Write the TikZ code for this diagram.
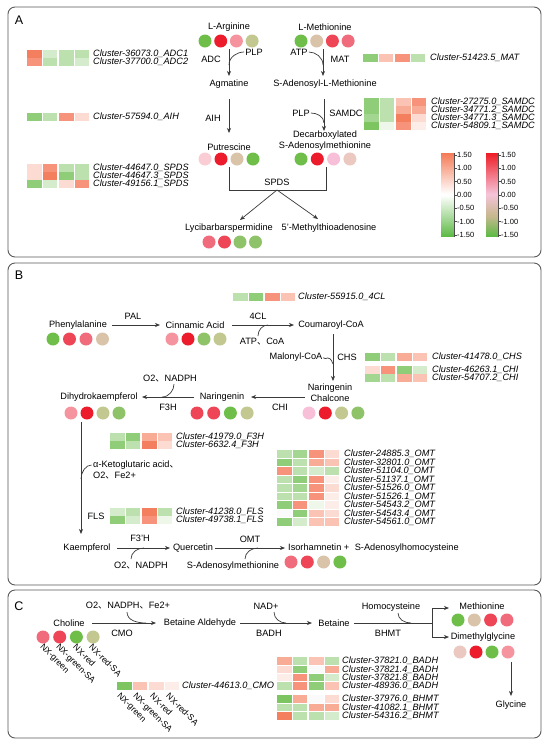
\documentclass[tikz,border=0pt]{standalone}
\usepackage{fontspec}
\setmainfont{Liberation Sans}
\newfontfamily\cjkf{Noto Sans CJK SC}
\usetikzlibrary{arrows.meta}
\newcommand\dn{{\cjkf 、}}
\definecolor{lin}{HTML}{3A3A3A}
\definecolor{pan}{HTML}{5A5A5A}
\definecolor{cG}{HTML}{6FBE4A}
\definecolor{cR}{HTML}{EC1C2C}
\definecolor{cRP}{HTML}{EE4656}
\definecolor{cPR}{HTML}{F06B7B}
\definecolor{cP}{HTML}{F5949F}
\definecolor{cLP}{HTML}{F9CDD3}
\definecolor{cPK}{HTML}{F7C0D8}
\definecolor{cT}{HTML}{D9C4AA}
\definecolor{cLT}{HTML}{EBC8C0}
\definecolor{cO}{HTML}{C2C890}
\definecolor{cOG}{HTML}{8EC36A}
\definecolor{h1}{HTML}{7CC560}
\definecolor{h2}{HTML}{8FCD78}
\definecolor{h3}{HTML}{A3D690}
\definecolor{h4}{HTML}{BCE1AE}
\definecolor{h5}{HTML}{D5ECCC}
\definecolor{h6}{HTML}{EEF7EA}
\definecolor{s1}{HTML}{F47F5E}
\definecolor{s2}{HTML}{F6937A}
\definecolor{s3}{HTML}{F8AC96}
\definecolor{s4}{HTML}{FAC3B3}
\definecolor{s5}{HTML}{FCDCD2}
\definecolor{s6}{HTML}{FDEDE8}
\definecolor{hw}{HTML}{FAFAFA}
\definecolor{barS}{HTML}{F47A55}
\definecolor{barG}{HTML}{5DBA45}
\definecolor{barR}{HTML}{EE1C25}
\definecolor{barP}{HTML}{F5C3D8}
\definecolor{barT}{HTML}{C7B890}
\newcommand\crow[7]{%
  \fill[#4] (#1,#2) circle[radius=6.5pt];
  \fill[#5] ({#1+#3},#2) circle[radius=6.5pt];
  \fill[#6] ({#1+2*#3},#2) circle[radius=6.5pt];
  \fill[#7] ({#1+3*#3},#2) circle[radius=6.5pt];}
\newcommand\hrow[6]{%
  \fill[#3] ({#1},{#2-3.6}) rectangle ++(14.5,7.2);
  \fill[#4] ({#1+15.5},{#2-3.6}) rectangle ++(14.5,7.2);
  \fill[#5] ({#1+32},{#2-3.6}) rectangle ++(14.5,7.2);
  \fill[#6] ({#1+47.5},{#2-3.6}) rectangle ++(14.5,7.2);}
\begin{document}
\begin{tikzpicture}[x=1pt,y=-1pt,
 txt/.style={font=\fontsize{9.2}{10.5}\selectfont, inner sep=0pt},
 cl/.style={font=\fontsize{9.2}{9}\selectfont\itshape, inner sep=0pt, anchor=west, text height=6.4pt, text depth=1pt},
 tk/.style={font=\fontsize{7.5}{8}\selectfont, inner sep=0pt, anchor=west},
 nx/.style={font=\fontsize{8.6}{9}\selectfont, inner sep=0pt, rotate=-45, anchor=north west},
 plab/.style={font=\fontsize{12.5}{13}\selectfont, inner sep=0pt},
 arr/.style={draw=lin, line width=0.7pt, -{Stealth[length=5pt,width=4pt,inset=1.5pt]}},
 ln/.style={draw=lin, line width=0.7pt},
 panel/.style={draw=pan, line width=0.9pt, rounded corners=7pt}]
\useasboundingbox (0,0) rectangle (550,748);
\fill[white] (0,0) rectangle (550,748);
% panels
\draw[panel] (8,7) rectangle (541,257);
\draw[panel] (8,263) rectangle (541,585);
\draw[panel] (8,590) rectangle (541,738);
\node[plab] (pA) at (19,20) {A};
\node[plab] (pB) at (19,275) {B};
\node[plab] (pC) at (19,606) {C};
% ================= Panel A
\node[txt] (arg) at (229,27) {L-Arginine};
\crow{205}{41}{15.7}{cG}{cR}{cP}{cO}
\coordinate (adcS) at (229,49); \coordinate (adcE) at (229,76);
\draw[arr] (adcS) -- (adcE);
\node[txt] (adc) at (211,59) {ADC};
\node[txt] (plp1) at (254,52) {PLP};
\coordinate (plp1j) at (229,65);
\draw[ln, shorten <=1pt] (plp1.west) to[out=180,in=90] (plp1j);
\node[txt] (agm) at (229,84) {Agmatine};
\coordinate (aihS) at (229,99); \coordinate (aihE) at (229,133);
\draw[arr] (aihS) -- (aihE);
\node[txt] (aih) at (213,118) {AIH};
\node[txt] (put) at (229,147) {Putrescine};
\crow{205}{159}{16}{cLP}{cR}{cT}{cG}
\node[txt] (met) at (325,27) {L-Methionine};
\crow{301}{41}{15.7}{cG}{cT}{cRP}{cPR}
\coordinate (matS) at (323,49); \coordinate (matE) at (323,76);
\draw[arr] (matS) -- (matE);
\node[txt] (mat) at (340,59) {MAT};
\node[txt] (atp1) at (299,52) {ATP};
\coordinate (atpj) at (323,65);
\draw[ln, shorten <=1pt] (atp1.east) to[out=0,in=90] (atpj);
\node[txt] (sam) at (325,84) {S-Adenosyl-L-Methionine};
\coordinate (samdcS) at (324,99); \coordinate (samdcE) at (324,131);
\draw[arr] (samdcS) -- (samdcE);
\node[txt] (plp2) at (301,113) {PLP};
\coordinate (plp2j) at (324,123);
\draw[ln, shorten <=1pt] (plp2.east) to[out=0,in=90] (plp2j);
\node[txt] (samdc) at (346,113) {SAMDC};
\node[txt, align=center, font=\fontsize{9.2}{11}\selectfont] (dcsam) at (325,140.5) {Decarboxylated\\S-Adenosylmethionine};
\crow{301}{159}{16.3}{cG}{cR}{cPK}{cLT}
\coordinate (sp1) at (229,167); \coordinate (sp2) at (229,190);
\coordinate (sp3) at (326,190); \coordinate (sp4) at (326,167);
\coordinate (spm) at (277,190);
\draw[ln] (sp1) -- (sp2) -- (sp3) -- (sp4);
\node[txt] (spds) at (277,182) {SPDS};
\node[txt] (lyc) at (229,228) {Lycibarbarspermidine};
\node[txt] (mta) at (329,228) {5'-Methylthioadenosine};
\coordinate (lycE) at (240,220); \coordinate (mtaE) at (318,219);
\draw[arr] (spm) -- (lycE);
\draw[arr] (spm) -- (mtaE);
\crow{209}{242}{15.5}{cPR}{cRP}{cOG}{cOG}
% heatmaps A
\hrow{27}{54}{s1}{h5}{h4}{h4}
\hrow{27}{62}{s2}{h4}{h4}{h5}
\node[cl] (kadc1) at (93,54) {Cluster-36073.0\_ADC1};
\node[cl] (kadc2) at (93,62) {Cluster-37700.0\_ADC2};
\hrow{27}{117}{h2}{h4}{s2}{s5}
\node[cl] (kaih) at (93,117) {Cluster-57594.0\_AIH};
\hrow{27}{168}{s5}{s2}{h4}{h4}
\hrow{27}{176}{s5}{s1}{h2}{h4}
\hrow{27}{184}{h2}{h5}{s5}{s2}
\node[cl] (kspds1) at (93,168) {Cluster-44647.0\_SPDS};
\node[cl] (kspds2) at (93,176) {Cluster-44647.3\_SPDS};
\node[cl] (kspds3) at (93,184) {Cluster-49156.1\_SPDS};
\hrow{363}{58}{h2}{s4}{s2}{h4}
\node[cl] (kmat) at (430,58) {Cluster-51423.5\_MAT};
\hrow{364}{102}{h2}{h4}{s4}{s2}
\hrow{364}{110}{h2}{h4}{s3}{s3}
\hrow{364}{118}{h3}{h4}{s1}{s5}
\hrow{364}{126}{h1}{h6}{s2}{s6}
\node[cl] (ksam1) at (431,102) {Cluster-27275.0\_SAMDC};
\node[cl] (ksam2) at (431,110) {Cluster-34771.2\_SAMDC};
\node[cl] (ksam3) at (431,118) {Cluster-34771.3\_SAMDC};
\node[cl] (ksam4) at (431,126) {Cluster-54809.1\_SAMDC};
% colour bars (sliced gradients)
\foreach \i in {0,...,41}{\pgfmathtruncatemacro\p{100-100*\i/41}
  \fill[barS!\p!white] (441,153+\i) rectangle ++(13,1.1);}
\foreach \i in {0,...,41}{\pgfmathtruncatemacro\p{100*\i/41}
  \fill[barG!\p!white] (441,195+\i) rectangle ++(13,1.1);}
\foreach \i in {0,...,41}{\pgfmathtruncatemacro\p{100-100*\i/41}
  \fill[barR!\p!barP] (486,153+\i) rectangle ++(12,1.1);}
\foreach \i in {0,...,20}{\pgfmathtruncatemacro\p{100*\i/20}
  \fill[barT!\p!barP] (486,195+\i) rectangle ++(12,1.1);}
\foreach \i in {0,...,20}{\pgfmathtruncatemacro\p{100*\i/20}
  \fill[barG!\p!barT] (486,216+\i) rectangle ++(12,1.1);}
\draw[black!70, line width=0.5pt] (454,153) -- (454,237);
\draw[black!70, line width=0.5pt] (498,153) -- (498,237);
\foreach \v [count=\i from 0] in {1.50,1.00,0.50,0.00,-0.50,-1.00,-1.50} {
  \draw[black!70, line width=0.5pt] (454,{155+13.33*\i}) -- ++(2.5,0);
  \draw[black!70, line width=0.5pt] (498,{155+13.33*\i}) -- ++(2.5,0);
  \node[tk] (ta\i) at (457,{155+13.33*\i}) {\v};
  \node[tk] (tb\i) at (501,{155+13.33*\i}) {\v};
}
% ================= Panel B
\hrow{233}{297}{h4}{h2}{s2}{s4}
\node[cl] (k4cl) at (298,297) {Cluster-55915.0\_4CL};
\node[txt] (phe) at (78,325) {Phenylalanine};
\crow{53}{339}{16.5}{cG}{cRP}{cPR}{cT}
\coordinate (palS) at (112,325); \coordinate (palE) at (160,325);
\draw[arr] (palS) -- (palE);
\node[txt] (pal) at (133,316) {PAL};
\node[txt] (cin) at (195,325) {Cinnamic Acid};
\crow{172}{339}{16}{cP}{cR}{cOG}{cO}
\coordinate (clS) at (232,325); \coordinate (clE) at (294,325);
\draw[arr] (clS) -- (clE);
\node[txt] (fcl) at (258,316) {4CL};
\node[txt] (atpcoa) at (262,342) {ATP\dn CoA};
\coordinate (atpc1) at (258,336); \coordinate (atpc2) at (268,325);
\draw[ln] (atpc1) to[out=90,in=180] (atpc2);
\node[txt] (cou) at (331,325) {Coumaroyl-CoA};
\coordinate (chsS) at (333,334); \coordinate (chsE) at (333,381);
\draw[arr] (chsS) -- (chsE);
\node[txt] (mal) at (296,357) {Malonyl-CoA};
\coordinate (malj) at (333,364);
\draw[ln, shorten <=1pt] (mal.east) .. controls (326,361) and (329,353) .. (malj);
\node[txt] (chs) at (347,357) {CHS};
\hrow{365}{357}{h2}{h4}{s3}{s4}
\node[cl] (kchs) at (432,357) {Cluster-41478.0\_CHS};
\hrow{365}{370}{s5}{s2}{h2}{h5}
\hrow{365}{378}{h3}{h4}{s3}{s4}
\node[cl] (kchi1) at (432,370) {Cluster-46263.1\_CHI};
\node[cl] (kchi2) at (432,378) {Cluster-54707.2\_CHI};
\node[txt, align=center, font=\fontsize{9.2}{11.5}\selectfont] (nch) at (330,392.5) {Naringenin\\Chalcone};
\crow{309}{413}{16.3}{cPK}{cR}{cO}{cOG}
\coordinate (chiS) at (305,397); \coordinate (chiE) at (251,397);
\draw[arr] (chiS) -- (chiE);
\node[txt] (chi) at (280,407) {CHI};
\node[txt] (nar) at (222,397) {Naringenin};
\crow{197}{413}{16.7}{cRP}{cRP}{cG}{cO}
\coordinate (f3hS) at (194,397); \coordinate (f3hE) at (142,397);
\draw[arr] (f3hS) -- (f3hE);
\node[txt] (f3h) at (168,407) {F3H};
\node[txt] (o2a) at (170,379) {O2\dn NADPH};
\coordinate (o2aj) at (162,397);
\draw[ln, shorten <=1.5pt] (o2a.south -| 174,0) to[out=-90,in=0] (o2aj);
\node[txt] (dhk) at (99,397) {Dihydrokaempferol};
\crow{71}{413}{16}{cP}{cR}{cO}{cOG}
\coordinate (flsS) at (81,422); \coordinate (flsE) at (81,534);
\draw[arr] (flsS) -- (flsE);
\node[txt, anchor=west] (akg) at (93,465) {α-Ketoglutaric acid\dn};
\node[txt, anchor=west] (o2fe) at (93,476) {O2\dn Fe2+};
\coordinate (akgj) at (81,479);
\draw[ln, shorten <=1.5pt] (akg.west) to[out=180,in=90] (akgj);
\hrow{110}{437}{h4}{h2}{s3}{s4}
\hrow{110}{445}{h2}{h4}{s1}{s5}
\node[cl] (kf3h1) at (176,437) {Cluster-41979.0\_F3H};
\node[cl] (kf3h2) at (176,445) {Cluster-6632.4\_F3H};
\hrow{110}{512}{h5}{h4}{s1}{h4}
\hrow{110}{520}{h2}{h5}{s2}{h6}
\node[cl] (kfls1) at (176,512) {Cluster-41238.0\_FLS};
\node[cl] (kfls2) at (176,520) {Cluster-49738.1\_FLS};
\node[txt] (fls) at (96,516) {FLS};
\node[txt] (kae) at (87,548) {Kaempferol};
\coordinate (f3pS) at (117,548); \coordinate (f3pE) at (170,548);
\draw[arr] (f3pS) -- (f3pE);
\node[txt] (f3p) at (140,538) {F3'H};
\node[txt] (o2b) at (141,566) {O2\dn NADPH};
\coordinate (o2bs) at (131,559); \coordinate (o2bj) at (144,548);
\draw[ln] (o2bs) to[out=90,in=180] (o2bj);
\node[txt] (que) at (193,548) {Quercetin};
\coordinate (omtS) at (215,548); \coordinate (omtE) at (285,548);
\draw[arr] (omtS) -- (omtE);
\node[txt] (omt) at (250,539) {OMT};
\node[txt] (sam2) at (233,566) {S-Adenosylmethionine};
\coordinate (sam2s) at (245,559); \coordinate (sam2j) at (258,548);
\draw[ln] (sam2s) to[out=90,in=180] (sam2j);
\node[txt, anchor=west] (iso) at (288,548) {Isorhamnetin +\hspace{3pt} S-Adenosylhomocysteine};
\crow{291}{562}{16.3}{cPR}{cRP}{cT}{cG}
\hrow{277}{454}{h4}{h3}{s2}{s5}
\hrow{277}{462.5}{h2}{h4}{s3}{s4}
\hrow{277}{471}{s2}{h4}{h5}{h4}
\hrow{277}{479.5}{h4}{h2}{s2}{s6}
\hrow{277}{488}{h4}{h3}{s2}{s5}
\hrow{277}{496.5}{h4}{h4}{s2}{s6}
\hrow{277}{505}{h2}{s2}{h6}{s6}
\hrow{277}{513.5}{hw}{h2}{s4}{s5}
\hrow{277}{522}{h2}{h5}{s4}{s4}
\node[cl] (komt1) at (344,454) {Cluster-24885.3\_OMT};
\node[cl] (komt2) at (344,462.5) {Cluster-32801.0\_OMT};
\node[cl] (komt3) at (344,471) {Cluster-51104.0\_OMT};
\node[cl] (komt4) at (344,479.5) {Cluster-51137.1\_OMT};
\node[cl] (komt5) at (344,488) {Cluster-51526.0\_OMT};
\node[cl] (komt6) at (344,496.5) {Cluster-51526.1\_OMT};
\node[cl] (komt7) at (344,505) {Cluster-54543.2\_OMT};
\node[cl] (komt8) at (344,513.5) {Cluster-54543.4\_OMT};
\node[cl] (komt9) at (344,522) {Cluster-54561.0\_OMT};
% ================= Panel C
\node[txt] (o2c) at (128,606) {O2\dn NADPH\dn Fe2+};
\node[txt] (cho) at (69,623) {Choline};
\crow{43}{637}{16.7}{cPR}{cRP}{cG}{cO}
\coordinate (cmoS) at (92,623); \coordinate (cmoE) at (156,623);
\draw[arr] (cmoS) -- (cmoE);
\node[txt] (cmo) at (122,633) {CMO};
\coordinate (o2cs) at (127,612); \coordinate (o2cj) at (146,623);
\draw[ln] (o2cs) to[out=-90,in=180] (o2cj);
\node[nx] (nx1) at (44,643) {NX-green};
\node[nx] (nx2) at (60,643) {NX-green-SA};
\node[nx] (nx3) at (77,643) {NX-red};
\node[nx] (nx4) at (93,643) {NX-red-SA};
\node[txt] (bal) at (200,623) {Betaine Aldehyde};
\coordinate (badhS) at (240,623); \coordinate (badhE) at (312,623);
\draw[arr] (badhS) -- (badhE);
\node[txt] (nad) at (266,606) {NAD+};
\node[txt] (badh) at (269,633) {BADH};
\coordinate (nads) at (274,612); \coordinate (nadj) at (286,623);
\draw[ln] (nads) to[out=-90,in=180] (nadj);
\node[txt] (bet) at (334,623) {Betaine};
\coordinate (bh1) at (354,623); \coordinate (bh2) at (432,623);
\coordinate (bhT) at (432,608); \coordinate (bhB) at (432,637);
\coordinate (bhTE) at (449,608); \coordinate (bhBE) at (449,637);
\draw[ln] (bh1) -- (bh2);
\draw[ln] (bhT) -- (bhB);
\draw[arr] (bhT) -- (bhTE);
\draw[arr] (bhB) -- (bhBE);
\node[txt] (hcy) at (391,607) {Homocysteine};
\coordinate (hcys) at (398,613); \coordinate (hcyj) at (411,623);
\draw[ln] (hcys) to[out=-90,in=180] (hcyj);
\node[txt] (bhmt) at (388,633) {BHMT};
\node[txt] (meth) at (482,606) {Methionine};
\crow{458}{620}{16.3}{cG}{cT}{cRP}{cPR}
\node[txt] (dmg) at (483,637) {Dimethylglycine};
\crow{460}{652}{16}{cLT}{cR}{cG}{cP}
\coordinate (glyS) at (511,662); \coordinate (glyE) at (511,696);
\draw[arr] (glyS) -- (glyE);
\node[txt] (gly) at (511,705) {Glycine};
\hrow{117}{686}{h1}{s4}{s5}{s6}
\node[cl] (kcmo) at (182,686) {Cluster-44613.0\_CMO};
\node[nx] (nx5) at (121,692) {NX-green};
\node[nx] (nx6) at (137,692) {NX-green-SA};
\node[nx] (nx7) at (154,692) {NX-red};
\node[nx] (nx8) at (170,692) {NX-red-SA};
\hrow{277}{661}{s3}{h4}{s4}{h4}
\hrow{277}{669.3}{s5}{h2}{hw}{s3}
\hrow{277}{677.6}{s6}{s2}{h2}{h5}
\hrow{277}{686}{h4}{s2}{h2}{s4}
\hrow{277}{699}{h1}{s3}{hw}{s5}
\hrow{277}{707.5}{h4}{h4}{s3}{s3}
\hrow{277}{716}{s1}{h4}{h4}{h5}
\node[cl] (kb1) at (342,661) {Cluster-37821.0\_BADH};
\node[cl] (kb2) at (342,669.3) {Cluster-37821.4\_BADH};
\node[cl] (kb3) at (342,677.6) {Cluster-37821.8\_BADH};
\node[cl] (kb4) at (342,686) {Cluster-48936.0\_BADH};
\node[cl] (kh1) at (342,699) {Cluster-37976.0\_BHMT};
\node[cl] (kh2) at (342,707.5) {Cluster-41082.1\_BHMT};
\node[cl] (kh3) at (342,716) {Cluster-54316.2\_BHMT};
\end{tikzpicture}
\end{document}
